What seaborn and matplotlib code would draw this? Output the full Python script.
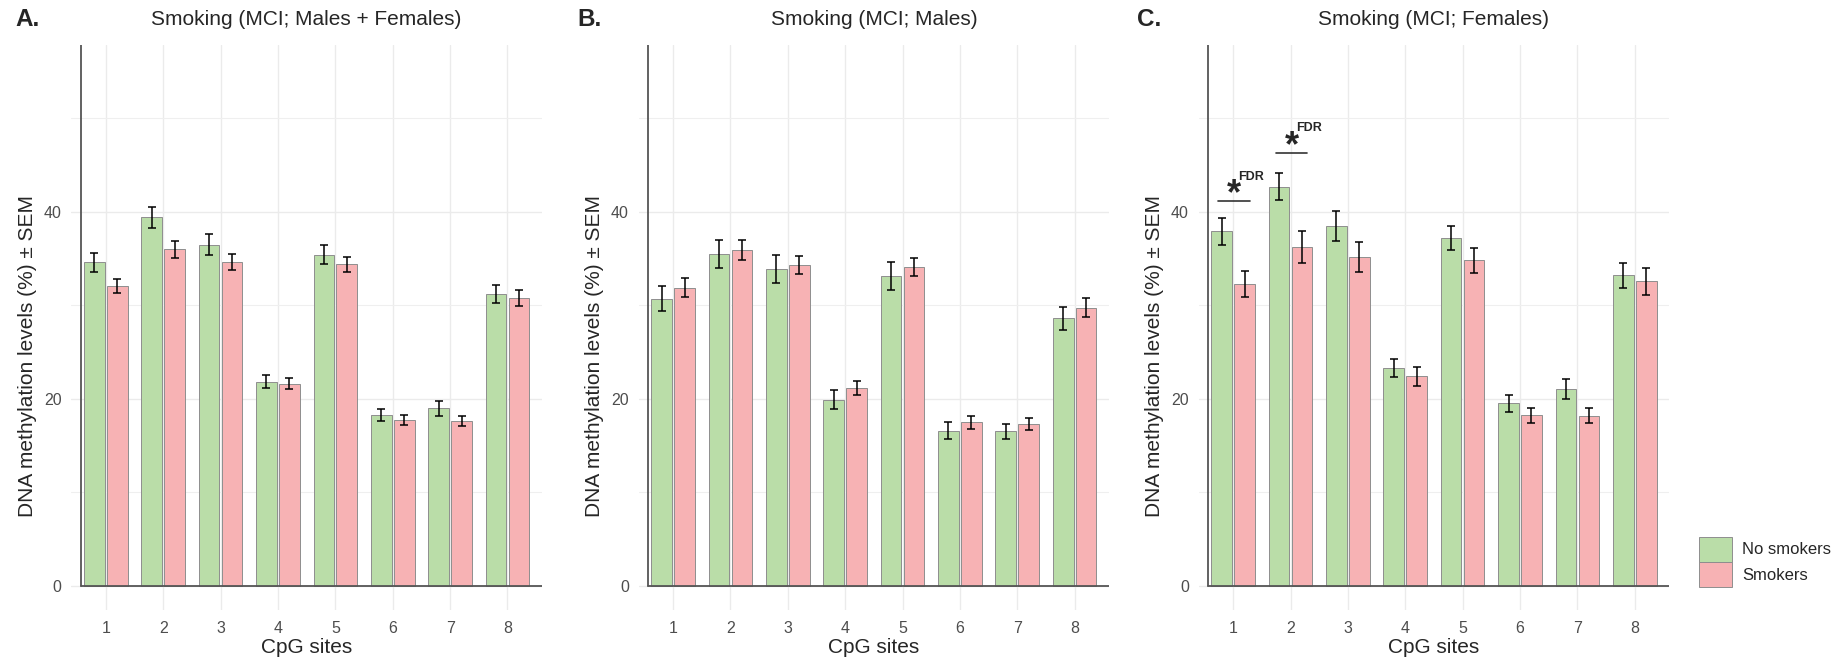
import pandas as pd
import matplotlib
matplotlib.use("Agg")
import matplotlib.pyplot as plt
import seaborn as sns

# CpG sites and group labels
sites = ["1", "2", "3", "4", "5", "6", "7", "8"]
groups = ["No smokers", "Smokers"]

# A. Males + Females
a_no = [34.6, 39.4, 36.5, 21.8, 35.4, 18.25, 19.0, 31.2]
a_no_sem = [1.0, 1.1, 1.1, 0.7, 1.0, 0.65, 0.8, 0.95]
a_sm = [32.1, 36.0, 34.6, 21.6, 34.4, 17.75, 17.6, 30.75]
a_sm_sem = [0.75, 0.9, 0.85, 0.6, 0.8, 0.55, 0.55, 0.85]

# B. Males
b_no = [30.7, 35.5, 33.9, 19.9, 33.1, 16.6, 16.5, 28.6]
b_no_sem = [1.35, 1.5, 1.5, 1.0, 1.5, 0.9, 0.85, 1.25]
b_sm = [31.9, 35.9, 34.3, 21.2, 34.1, 17.5, 17.3, 29.75]
b_sm_sem = [1.0, 1.05, 1.0, 0.75, 1.0, 0.7, 0.65, 1.0]

# C. Females
c_no = [37.9, 42.7, 38.5, 23.3, 37.2, 19.5, 21.05, 33.2]
c_no_sem = [1.4, 1.47, 1.6, 0.95, 1.25, 0.9, 1.1, 1.35]
c_sm = [32.25, 36.2, 35.2, 22.4, 34.8, 18.25, 18.2, 32.55]
c_sm_sem = [1.4, 1.7, 1.6, 1.0, 1.3, 0.8, 0.77, 1.4]

# significance marks in panel C (site index, line y, star baseline, FDR baseline)
sig_sites = [0, 1]
sig_line_y = [41.2, 46.3]
sig_star_y = [40.8, 45.9]
sig_fdr_y = [43.4, 48.6]

panels = [
    ("A.", "Smoking (MCI; Males + Females)", a_no, a_no_sem, a_sm, a_sm_sem),
    ("B.", "Smoking (MCI; Males)", b_no, b_no_sem, b_sm, b_sm_sem),
    ("C.", "Smoking (MCI; Females)", c_no, c_no_sem, c_sm, c_sm_sem),
]

colors = {"No smokers": "#BADDA8", "Smokers": "#F7B2B4"}

sns.set_style("white")
plt.rcParams["font.family"] = ["Liberation Sans", "DejaVu Sans"]

fig = plt.figure(figsize=(18.45, 6.65), dpi=100)
W, H = 1845, 665
lefts = [71.4, 638.6, 1198.7]
letter_x = [15, 577, 1137]
top_px, bot_px, width_px = 44.5, 610, 470.5

axes = []
for i, (letter, title, no, no_sem, sm, sm_sem) in enumerate(panels):
    ax = fig.add_axes([lefts[i] / W, 1 - bot_px / H, width_px / W, (bot_px - top_px) / H])
    axes.append(ax)

    df = pd.DataFrame({
        "site": sites * 2,
        "value": no + sm,
        "group": [groups[0]] * 8 + [groups[1]] * 8,
    })
    sns.barplot(data=df, x="site", y="value", hue="group", order=sites,
                hue_order=groups, palette=colors, saturation=1, errorbar=None,
                width=0.8, gap=0.1, edgecolor="#8E8E8E", linewidth=0.7,
                legend=(i == 2), ax=ax)

    # error bars (mean +/- SEM) on the seaborn bars
    for cont, sems in zip(ax.containers, [no_sem, sm_sem]):
        xs = [p.get_x() + p.get_width() / 2 for p in cont.patches]
        ys = [p.get_height() for p in cont.patches]
        ax.errorbar(xs, ys, yerr=sems, fmt="none", ecolor="black",
                    elinewidth=1.1, capsize=2.6, capthick=1.1, zorder=4)

    ax.set_xlim(-0.6, 7.6)
    ax.set_ylim(-2.6, 57.9)
    ax.set_yticks([0, 20, 40])
    ax.set_yticks([10, 30, 50], minor=True)
    ax.grid(True, which="major", color="#EBEBEB", linewidth=1.0)
    ax.grid(True, which="minor", axis="y", color="#EFEFEF", linewidth=0.8)
    ax.set_axisbelow(True)
    for s in ax.spines.values():
        s.set_visible(False)
    ax.tick_params(axis="both", which="both", length=0, labelsize=11.5,
                   labelcolor="#4D4D4D")
    ax.tick_params(axis="x", pad=8)
    ax.tick_params(axis="y", pad=7)

    # axis lines
    ax.axvline(-0.43, ymin=2.6 / 60.5, ymax=1, color="#555555", lw=1.3, zorder=5)
    ax.axhline(0, xmin=0.17 / 8.2, xmax=1, color="#555555", lw=1.3, zorder=5)

    ax.set_xlabel("CpG sites", fontsize=15)
    ax.xaxis.set_label_coords(0.5, -0.067)
    ax.xaxis.label.set_va("center")
    ax.set_ylabel("DNA methylation levels (%) \u00b1 SEM", fontsize=15)
    ax.yaxis.set_label_coords(-0.094, 0.449)
    ax.yaxis.label.set_va("center")
    ax.set_title(title, fontsize=15, y=1.045, va="center", pad=0)

    fig.text(letter_x[i] / W, 1 - 20 / H, letter, fontsize=17.5,
             fontweight="bold", ha="left", va="center")

# significance annotations in panel C
axc = axes[2]
for s, ly, sy, fy in zip(sig_sites, sig_line_y, sig_star_y, sig_fdr_y):
    axc.plot([s - 0.26, s + 0.29], [ly, ly], color="#333333", lw=1.2)
    axc.text(s + 0.02, sy, "*", fontsize=26, fontweight="bold",
             ha="center", va="baseline")
    axc.text(s + 0.32, fy, "FDR", fontsize=9, fontweight="bold",
             ha="center", va="baseline")

sns.move_legend(axc, "lower left", bbox_to_anchor=(1699 / W, 1 - 587 / H),
                bbox_transform=fig.transFigure, title=None, frameon=False,
                fontsize=12, handlelength=2.0, handleheight=1.95,
                labelspacing=0, handletextpad=0.6, borderpad=0,
                borderaxespad=0)

fig.savefig("out.png", dpi=100)
